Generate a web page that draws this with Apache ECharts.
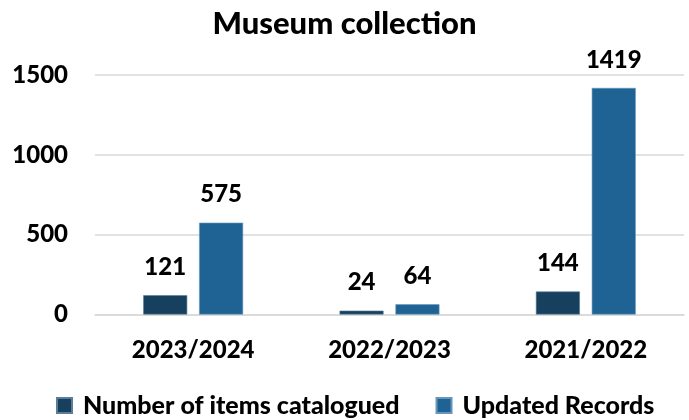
<!DOCTYPE html>
<html>
<head>
<meta charset="utf-8">
<script src="https://cdn.jsdelivr.net/npm/echarts@6/dist/echarts.min.js"></script>
<style>
  html, body { margin: 0; padding: 0; background: #ffffff; }
  #chart { width: 689px; height: 420px; }
</style>
</head>
<body>
<div id="chart"></div>
<script>
// Museum collection: items catalogued vs. records updated, per financial year
const categories = ['2023/2024', '2022/2023', '2021/2022'];
const itemsCatalogued = [121, 24, 144];
const updatedRecords = [575, 64, 1419];
const seriesNames = ['Number of items catalogued', 'Updated Records'];
const yTicks = { min: 0, max: 1500, interval: 500 };

const FONT = 'Lato';
const WEIGHT = 900;
const chart = echarts.init(document.getElementById('chart'), null, { renderer: 'canvas' });

const labelStyle = {
  show: true,
  position: 'top',
  distance: 16,
  color: '#000',
  fontFamily: FONT,
  fontWeight: WEIGHT,
  fontSize: 24
};

chart.setOption({
  animation: false,
  backgroundColor: '#ffffff',
  title: {
    text: 'Museum collection',
    left: 'center',
    top: 3,
    textStyle: { fontFamily: FONT, fontWeight: WEIGHT, fontSize: 31, color: '#000' }
  },
  legend: {
    data: seriesNames,
    left: 56,
    top: 393,
    padding: 0,
    itemWidth: 15,
    itemHeight: 15,
    itemGap: 36,
    icon: 'rect',
    textStyle: { fontFamily: FONT, fontWeight: WEIGHT, fontSize: 25, color: '#000', padding: [0, 0, 0, 6] }
  },
  grid: { left: 95, right: 5, top: 75, bottom: 105.5, containLabel: false },
  xAxis: {
    type: 'category',
    data: categories,
    axisLine: { lineStyle: { color: '#d9d9d9', width: 1.5 } },
    axisTick: { show: false },
    axisLabel: { margin: 24, color: '#000', fontFamily: FONT, fontWeight: WEIGHT, fontSize: 24 }
  },
  yAxis: {
    type: 'value',
    min: yTicks.min,
    max: yTicks.max,
    interval: yTicks.interval,
    axisLine: { show: false },
    axisTick: { show: false },
    splitLine: { lineStyle: { color: '#d9d9d9', width: 1.5 } },
    axisLabel: {
      margin: 27,
      color: '#000',
      fontFamily: FONT,
      fontWeight: WEIGHT,
      fontSize: 24,
      formatter: (v) => String(v)
    }
  },
  series: [
    {
      name: seriesNames[0],
      type: 'bar',
      data: itemsCatalogued,
      barWidth: 44,
      barGap: '27%',
      itemStyle: { color: '#17405f', borderColor: '#5a7d99', borderWidth: 0.6 },
      label: labelStyle
    },
    {
      name: seriesNames[1],
      type: 'bar',
      data: updatedRecords,
      barWidth: 44,
      barGap: '27%',
      itemStyle: { color: '#1f6395', borderColor: '#6896bb', borderWidth: 0.6 },
      label: labelStyle
    }
  ]
});
</script>
</body>
</html>
